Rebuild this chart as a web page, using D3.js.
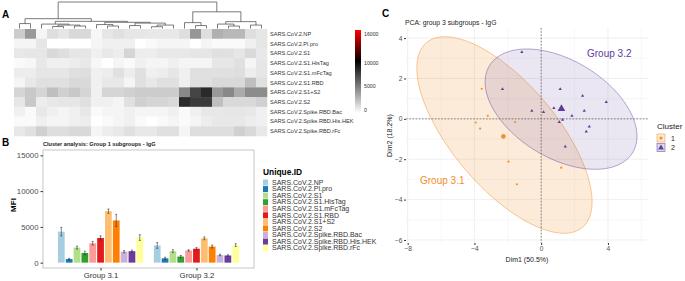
<!DOCTYPE html>
<html>
<head>
<meta charset="utf-8">
<script src="https://cdn.jsdelivr.net/npm/d3@7"></script>
<style>
body { margin: 0; background: #fff; }
svg { font-family: "Liberation Sans", Arial, sans-serif; }
</style>
</head>
<body>
<svg id="fig" width="685" height="281"></svg>
<script>
// ---------- panel A : heatmap ----------
var antigens = ["SARS.CoV.2.NP", "SARS.CoV.2.Pl.pro", "SARS.CoV.2.S1", "SARS.CoV.2.S1.HisTag",
    "SARS.CoV.2.S1.mFcTag", "SARS.CoV.2.S1.RBD", "SARS.CoV.2.S1+S2", "SARS.CoV.2.S2",
    "SARS.CoV.2.Spike.RBD.Bac", "SARS.CoV.2.Spike.RBD.His.HEK", "SARS.CoV.2.Spike.RBD.rFc"];

// MFI per antigen (rows) and sample (columns, dendrogram order)
var heat = [
    [2000,4000,400,1300,1000,1500,1500,300,1000,1200,1000,1000,900,900,900,1300,4100,1300,3100,2800,2800,1300,1000],
    [400,400,1000,0,0,0,0,400,600,600,600,0,200,400,400,400,0,400,200,200,200,600,1000],
    [900,1000,1000,1500,1300,1000,1000,600,900,700,1650,700,700,900,900,900,1000,1000,1200,1200,1000,1500,900],
    [200,300,900,600,600,700,900,300,0,400,200,600,400,400,600,400,400,400,1000,1000,1200,400,1000],
    [700,700,1000,1000,1000,1200,1300,600,700,1200,700,1200,600,700,1000,600,1200,1200,1200,1200,1300,700,1000],
    [400,900,1200,1200,1200,1500,1500,600,900,900,400,1200,900,1200,1200,600,1200,1200,1500,1500,1500,2500,1200],
    [1650,2150,1650,2500,1850,2150,1650,600,1650,1650,1850,2000,2000,2000,2000,4650,7300,8350,4000,4650,3300,4500,4500],
    [1000,2150,700,900,1000,1000,1200,600,600,400,1200,1850,1650,1650,1500,8350,7700,7700,2500,1500,1500,1500,1850],
    [600,200,900,600,400,600,900,200,400,400,600,400,400,400,600,200,600,900,900,1000,1000,900,600],
    [200,200,600,400,400,600,700,0,200,400,600,200,0,200,400,200,400,700,900,900,900,700,600],
    [900,1200,1850,1300,1300,1500,1500,400,700,900,1200,900,900,1200,1200,400,1300,1300,1300,1300,1850,1500,900]
];

// column dendrogram: [height, left, right], leaves are column indexes
var dendro = [27,
    [10, [5, 0, 1],
         [7.3, [4.5, 2, [3.5, [2, 3, 4], [2.5, 5, 6]]],
               [6.3, [4, 7, [2.5, 8, 9]], [5.5, [3, 10, 11], [3.5, [1.8, 12, 13], 14]]]]],
    [17, [6, 15, [3, 16, 17]],
         [7, [4.5, 18, [2.5, 19, 20]], [3.5, 21, 22]]]];

var heatTicks = [0, 5000, 10000, 16000];

// ---------- panel B : bars ----------
var groups = ["Group 3.1", "Group 3.2"];
var mean31 = [4330, 500, 2100, 1350, 2700, 3450, 7200, 5900, 1530, 1600, 3500];
var err31  = [600, 100, 200, 250, 250, 300, 300, 850, 150, 150, 400];
var mean32 = [2400, 600, 1600, 850, 1700, 1950, 3400, 2250, 1070, 1000, 2450];
var err32  = [400, 150, 200, 150, 100, 150, 200, 200, 100, 100, 200];
var mfiTicks = [0, 5000, 10000, 15000];

// ---------- panel C : PCA ----------
var c1x = [-3.56, -3.2, -3.92, -3.66, -1.56, -1.96, -1.46, 1.2];
var c1y = [1.49, 0.15, -0.18, -0.48, -0.16, -2.12, -3.24, -2.42];
var c2x = [-1.16, -2.32, 1.14, 2.48, 3.9, -0.56, 0.14, 0.76, 2.58, 1.84, 1.28, 1.08, 2.88, 2.7, 1.44];
var c2y = [3.31, 1.47, 1.47, 1.14, 0.83, 0.4, 0.33, 0.53, 0.4, 0.15, -0.05, -0.16, -0.38, -0.63, -1.37];
// ellipse: centre x, centre y, half width, half height, correlation
var ell1 = [-2.2, -0.8, 5.25, 4.87, -0.68];
var ell2 = [1.19, 0.48, 4.55, 2.98, -0.45];
var dimXTicks = [-8, -4, 0, 4];
var dimYTicks = [-6, -4, -2, 0, 2, 4];

var svg = d3.select("#fig");
var orange = "#f0902a", purple = "#5e3c99";

// ================= A =================
svg.append("text").attr("x", 2).attr("y", 18).attr("font-size", 10).attr("font-weight", "bold").text("A");

var hx = d3.scaleBand().domain(d3.range(23)).range([14, 267]);
var hy = d3.scaleBand().domain(antigens).range([29, 136]);
var heatColor = d3.scaleLinear().domain([0, 10000, 16000]).range(["#ffffff", "#000000", "#ff0000"]);

var cells = [];
heat.forEach(function(row, i) {
    row.forEach(function(v, j) { cells.push({ r: antigens[i], c: j, v: v }); });
});
svg.append("g").selectAll("rect").data(cells).enter().append("rect")
    .attr("x", d => hx(d.c)).attr("y", d => hy(d.r))
    .attr("width", hx.bandwidth() + 0.3).attr("height", hy.bandwidth() + 0.3)
    .attr("fill", d => heatColor(d.v));

svg.append("g").selectAll("text").data(antigens).enter().append("text")
    .attr("x", 270).attr("y", d => hy(d) + hy.bandwidth() / 2 + 2)
    .attr("font-size", 5.6).attr("fill", "#333").text(d => d);

// dendrogram
var dh = d3.scaleLinear().domain([0, 27]).range([28.5, 2]);
var dg = svg.append("g").attr("fill", "none").attr("stroke", "#444").attr("stroke-width", 0.7);
function drawNode(n) {
    if (typeof n === "number") return { x: hx(n) + hx.bandwidth() / 2, h: 0 };
    var l = drawNode(n[1]), r = drawNode(n[2]);
    var y = dh(n[0]);
    dg.append("path").attr("d", "M" + l.x + "," + dh(l.h) + "V" + y + "H" + r.x + "V" + dh(r.h));
    return { x: (l.x + r.x) / 2, h: n[0] };
}
drawNode(dendro);

// colour key
var ky = d3.scaleLinear().domain([0, 16000]).range([110, 34]);
var grad = svg.append("defs").append("linearGradient").attr("id", "hk")
    .attr("x1", 0).attr("y1", 1).attr("x2", 0).attr("y2", 0);
d3.range(0, 16001, 1000).forEach(function(v) {
    grad.append("stop").attr("offset", v / 16000).attr("stop-color", heatColor(v));
});
svg.append("rect").attr("x", 355).attr("width", 6)
    .attr("y", ky(16000) - 4).attr("height", ky(0) - ky(16000) + 7)
    .attr("fill", "url(#hk)");
svg.append("g").selectAll("text").data(heatTicks).enter().append("text")
    .attr("x", 364).attr("y", d => ky(d) + 2).attr("font-size", 5.2).attr("fill", "#333")
    .text(d => d);

// ================= B =================
svg.append("text").attr("x", 2).attr("y", 146).attr("font-size", 10).attr("font-weight", "bold").text("B");
svg.append("text").attr("x", 43).attr("y", 146).attr("font-size", 5.6).attr("font-weight", "bold")
    .attr("fill", "#222").text("Cluster analysis: Group 1 subgroups - IgG");

var bx0 = d3.scaleBand().domain(groups).range([43, 254]).paddingInner(0.1).paddingOuter(0.15);
var bx1 = d3.scaleBand().domain(antigens).range([0, bx0.bandwidth()]).paddingInner(0.14).paddingOuter(0.07);
var by = d3.scaleLinear().domain([-750, 15750]).range([268, 150]);
var pal = d3.scaleOrdinal().domain(antigens).range(d3.schemePaired);

var barData = [];
antigens.forEach(function(a, i) {
    barData.push({ g: groups[0], a: a, m: mean31[i], e: err31[i] });
    barData.push({ g: groups[1], a: a, m: mean32[i], e: err32[i] });
});

svg.append("rect").attr("x", 43).attr("y", 150).attr("width", 211).attr("height", 118)
    .attr("fill", "#fff").attr("stroke", "#b8b8b8").attr("stroke-width", 0.8);

svg.append("g").selectAll("rect").data(barData).enter().append("rect")
    .attr("x", d => bx0(d.g) + bx1(d.a)).attr("width", bx1.bandwidth())
    .attr("y", d => by(d.m)).attr("height", d => by(0) - by(d.m))
    .attr("fill", d => pal(d.a));

var eg = svg.append("g").attr("stroke", "#333").attr("stroke-width", 0.6);
barData.forEach(function(d) {
    var cx = bx0(d.g) + bx1(d.a) + bx1.bandwidth() / 2;
    eg.append("line").attr("x1", cx).attr("x2", cx).attr("y1", by(d.m - d.e)).attr("y2", by(d.m + d.e));
    eg.append("line").attr("x1", cx - 1).attr("x2", cx + 1).attr("y1", by(d.m - d.e)).attr("y2", by(d.m - d.e));
    eg.append("line").attr("x1", cx - 1).attr("x2", cx + 1).attr("y1", by(d.m + d.e)).attr("y2", by(d.m + d.e));
});

var yAxisB = svg.append("g").attr("transform", "translate(43,0)")
    .call(d3.axisLeft(by).tickValues(mfiTicks).tickFormat(d3.format("d")).tickSize(2.5).tickPadding(2));
yAxisB.select(".domain").remove();
yAxisB.selectAll("line").attr("stroke", "#333");
yAxisB.selectAll("text").attr("font-size", 7.8).attr("fill", "#4d4d4d").attr("font-family", "Liberation Sans");

var xAxisB = svg.append("g").attr("transform", "translate(0,268)")
    .call(d3.axisBottom(d3.scalePoint().domain(groups).range([bx0(groups[0]) + bx0.bandwidth() / 2, bx0(groups[1]) + bx0.bandwidth() / 2]))
    .tickSize(2.5).tickPadding(1.5));
xAxisB.select(".domain").remove();
xAxisB.selectAll("line").attr("stroke", "#333");
xAxisB.selectAll("text").attr("font-size", 7.8).attr("fill", "#333").attr("font-family", "Liberation Sans");

svg.append("text").attr("transform", "translate(16,205) rotate(-90)").attr("text-anchor", "middle")
    .attr("font-size", 8).attr("font-weight", "bold").text("MFI");

// legend
svg.append("text").attr("x", 263).attr("y", 175).attr("font-size", 8.4).attr("font-weight", "bold").text("Unique.ID");
var lg = svg.append("g").selectAll("g").data(antigens).enter().append("g")
    .attr("transform", (d, i) => "translate(263," + (179.5 + i * 6.56) + ")");
lg.append("rect").attr("width", 5).attr("height", 6).attr("fill", d => pal(d));
lg.append("text").attr("x", 9).attr("y", 5.2).attr("font-size", 7).attr("fill", "#333").text(d => d);

// ================= C =================
svg.append("text").attr("x", 382).attr("y", 17).attr("font-size", 10).attr("font-weight", "bold").text("C");
svg.append("text").attr("x", 405).attr("y", 25).attr("font-size", 6.8).attr("fill", "#222")
    .text("PCA: group 3 subgroups - IgG");

var px = d3.scaleLinear().domain([-8.1, 6.4]).range([406, 648]);
var py = d3.scaleLinear().domain([-6.15, 4.5]).range([243, 28]);

var grid = svg.append("g").attr("stroke", "#ebebeb");
[-6, -2, 2, 6].forEach(v => grid.append("line").attr("x1", px(v)).attr("x2", px(v)).attr("y1", 28).attr("y2", 243).attr("stroke-width", 0.4));
[-5, -3, -1, 1, 3].forEach(v => grid.append("line").attr("y1", py(v)).attr("y2", py(v)).attr("x1", 406).attr("x2", 648).attr("stroke-width", 0.4));
dimXTicks.forEach(v => grid.append("line").attr("x1", px(v)).attr("x2", px(v)).attr("y1", 28).attr("y2", 243).attr("stroke-width", 0.8));
dimYTicks.forEach(v => grid.append("line").attr("y1", py(v)).attr("y2", py(v)).attr("x1", 406).attr("x2", 648).attr("stroke-width", 0.8));

function ellipsePath(e) {
    var pts = d3.range(0, 2 * Math.PI + 0.01, Math.PI / 60).map(function(t) {
        var x = e[0] + e[2] * Math.cos(t);
        var y = e[1] + e[3] * (e[4] * Math.cos(t) + Math.sqrt(1 - e[4] * e[4]) * Math.sin(t));
        return [px(x), py(y)];
    });
    return d3.line()(pts) + "Z";
}
svg.append("path").attr("d", ellipsePath(ell1)).attr("fill", orange).attr("fill-opacity", 0.18)
    .attr("stroke", orange).attr("stroke-opacity", 0.6).attr("stroke-width", 0.8);
svg.append("path").attr("d", ellipsePath(ell2)).attr("fill", purple).attr("fill-opacity", 0.13)
    .attr("stroke", purple).attr("stroke-opacity", 0.55).attr("stroke-width", 0.8);

// zero lines
svg.append("line").attr("x1", px(0)).attr("x2", px(0)).attr("y1", 28).attr("y2", 243)
    .attr("stroke", "#555").attr("stroke-width", 0.7).attr("stroke-dasharray", "1.6,1.6");
svg.append("line").attr("y1", py(0)).attr("y2", py(0)).attr("x1", 406).attr("x2", 648)
    .attr("stroke", "#555").attr("stroke-width", 0.7).attr("stroke-dasharray", "1.6,1.6");

// points
svg.append("g").selectAll("circle").data(c1x).enter().append("circle")
    .attr("cx", d => px(d)).attr("cy", (d, i) => py(c1y[i])).attr("r", 1.1).attr("fill", orange);
var tri = d3.symbol().type(d3.symbolTriangle).size(4.5);
svg.append("g").selectAll("path").data(c2x).enter().append("path")
    .attr("transform", (d, i) => "translate(" + px(d) + "," + py(c2y[i]) + ")")
    .attr("d", tri).attr("fill", purple);
// centroids
svg.append("circle").attr("cx", px(d3.mean(c1x))).attr("cy", py(d3.mean(c1y))).attr("r", 2.3).attr("fill", orange);
svg.append("path").attr("transform", "translate(" + px(d3.mean(c2x)) + "," + py(d3.mean(c2y)) + ")")
    .attr("d", d3.symbol().type(d3.symbolTriangle).size(26)).attr("fill", purple);

// group labels
svg.append("text").attr("x", 587).attr("y", 57).attr("font-size", 10).attr("fill", purple).text("Group 3.2");
svg.append("text").attr("x", 420).attr("y", 184).attr("font-size", 10).attr("fill", orange).text("Group 3.1");

// axes
var xAxisC = svg.append("g").attr("transform", "translate(0,243)")
    .call(d3.axisBottom(px).tickValues(dimXTicks).tickSize(2).tickPadding(1.5));
xAxisC.select(".domain").remove();
xAxisC.selectAll("line").attr("stroke", "#333");
xAxisC.selectAll("text").attr("font-size", 6.6).attr("fill", "#4d4d4d").attr("font-family", "Liberation Sans");
var yAxisC = svg.append("g").attr("transform", "translate(406,0)")
    .call(d3.axisLeft(py).tickValues(dimYTicks).tickSize(2).tickPadding(1.5));
yAxisC.select(".domain").remove();
yAxisC.selectAll("line").attr("stroke", "#333");
yAxisC.selectAll("text").attr("font-size", 6.6).attr("fill", "#4d4d4d").attr("font-family", "Liberation Sans");

svg.append("text").attr("x", 527).attr("y", 262).attr("text-anchor", "middle").attr("font-size", 7)
    .attr("fill", "#222").text("Dim1 (50.5%)");
svg.append("text").attr("transform", "translate(392,135.5) rotate(-90)").attr("text-anchor", "middle")
    .attr("font-size", 7).attr("fill", "#222").text("Dim2 (18.2%)");

// cluster legend
svg.append("text").attr("x", 657).attr("y", 129).attr("font-size", 8).attr("fill", "#222").text("Cluster");
var keys = [{ k: "1", c: orange }, { k: "2", c: purple }];
var kg = svg.append("g").selectAll("g").data(keys).enter().append("g")
    .attr("transform", (d, i) => "translate(657," + (134 + i * 9.5) + ")");
kg.append("rect").attr("width", 8).attr("height", 8).attr("fill", d => d.c).attr("fill-opacity", 0.2)
    .attr("stroke", d => d.c).attr("stroke-opacity", 0.7).attr("stroke-width", 0.7);
kg.filter(d => d.k === "1").append("circle").attr("cx", 4).attr("cy", 4).attr("r", 1.6).attr("fill", orange);
kg.filter(d => d.k === "2").append("path").attr("transform", "translate(4,4.3)")
    .attr("d", d3.symbol().type(d3.symbolTriangle).size(14)).attr("fill", purple);
kg.append("text").attr("x", 14).attr("y", 6.6).attr("font-size", 7).attr("fill", "#222").text(d => d.k);
</script>
</body>
</html>
